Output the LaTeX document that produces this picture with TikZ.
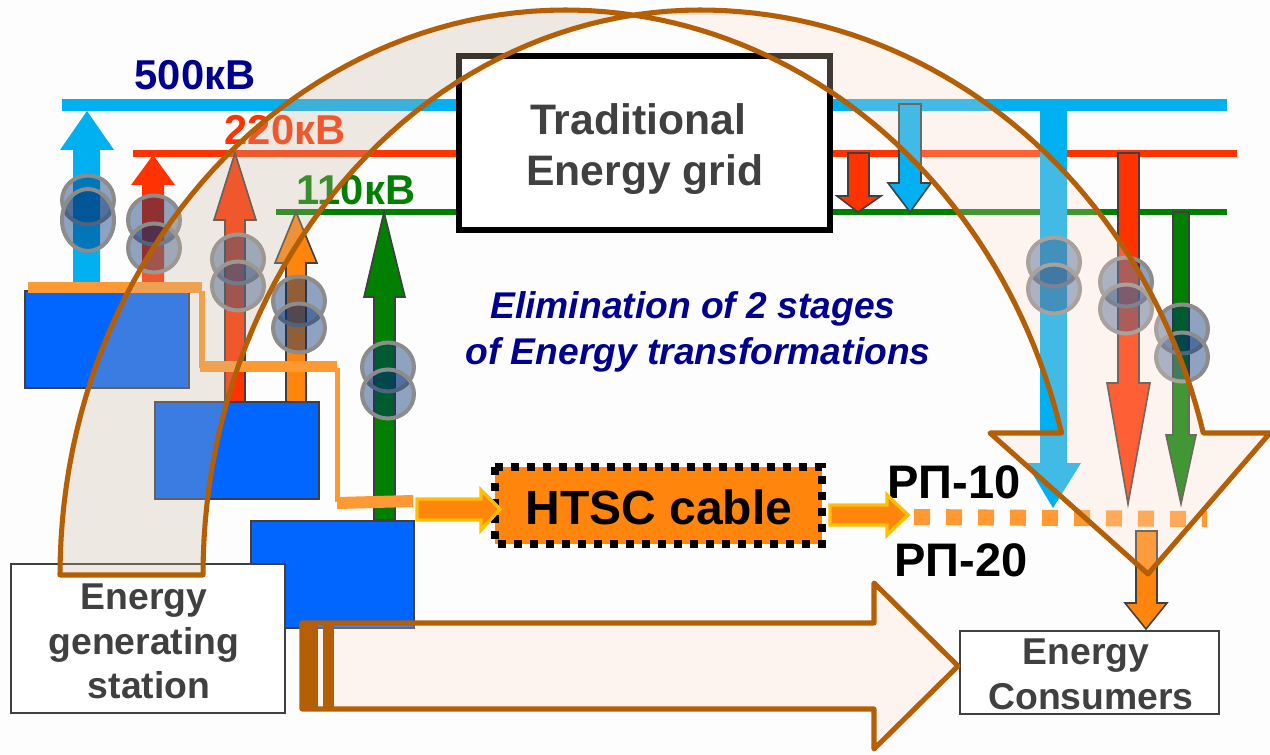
\documentclass[tikz,border=0pt]{standalone}
\usepackage{fontspec}
\setmainfont{Liberation Sans}
\definecolor{bg}{HTML}{FDFDFD}
\definecolor{cyanb}{HTML}{00B0F0}
\definecolor{redb}{HTML}{FF3300}
\definecolor{greenb}{HTML}{007F00}
\definecolor{navy}{HTML}{000090}
\definecolor{orangeb}{HTML}{FF850D}
\definecolor{orangel}{HTML}{FF9933}
\definecolor{blueb}{HTML}{0066FF}
\definecolor{brownb}{HTML}{B45F06}
\definecolor{graytxt}{HTML}{404040}
\definecolor{bandL}{HTML}{C8B59E}
\definecolor{bandR}{HTML}{FDDEC9}
\definecolor{xffill}{HTML}{002E70}
\definecolor{xfline}{HTML}{8C8C8C}
\definecolor{yellowb}{HTML}{FFC000}
\newcommand{\vblock}[8]{\path[#1] (#2,#6) -- (#2,#7) -- (#4,#7) -- (#8) -- (#5,#7) -- (#3,#7) -- (#3,#6) -- cycle;}
\newcommand{\xformer}[3]{\draw[xf] (#1,#2) ellipse[x radius=26,y radius=24.5]; \draw[xf] (#1,#3) ellipse[x radius=26,y radius=24.5];}
\tikzset{
  xf/.style={draw=xfline,line width=3pt,fill=xffill,fill opacity=.43},
  lbl/.style={font=\bfseries,anchor=base,inner sep=0pt},
  edged/.style={draw=graytxt,line width=1.2pt,line join=miter},
  blockrect/.style={fill=blueb,draw=graytxt,line width=1.2pt},
  small/.style={draw=yellowb,fill=orangeb,line width=2.6pt,miter limit=4},
  whitebox/.style={fill=white,draw=graytxt,line width=1.2pt},
  bandline/.style={draw=brownb,line width=3.8pt,line join=round}
}
\begin{document}
\begin{tikzpicture}[x=0.75pt,y=-0.75pt]
\useasboundingbox (0,0) rectangle (1270,755);
\fill[bg] (0,0) rectangle (1270,755);
% buses
\fill[cyanb] (62,99) rectangle (1227,111);
\fill[redb] (133,150) rectangle (1237,157);
\fill[greenb] (276,209) rectangle (1227,215);
% bus labels
\node[lbl,text=navy,font=\bfseries\fontsize{31.3}{33}\selectfont] (l500) at (195,90) {500кВ};
\node[lbl,text=redb,font=\bfseries\fontsize{31.3}{33}\selectfont] (l220) at (285,145) {220кВ};
\node[lbl,text=greenb,font=\bfseries\fontsize{31.3}{33}\selectfont] (l110) at (356,205) {110кВ};
% up arrows
\coordinate (t1) at (87,111); \coordinate (t2) at (153,155); \coordinate (t3) at (235,153);
\coordinate (t4) at (296,212); \coordinate (t5) at (384,212);
\vblock{fill=cyanb}{73}{100}{60}{114}{282}{150}{t1}
\vblock{fill=redb}{142}{164}{131}{175}{282}{185}{t2}
\vblock{fill=redb,edged}{225}{245}{214}{256}{402}{220}{t3}
\vblock{fill=orangeb,edged}{286}{306}{275}{317}{402}{263}{t4}
\vblock{fill=greenb,edged}{374}{395}{364}{405}{520}{297}{t5}
% down arrows
\coordinate (d1) at (1053,508); \coordinate (d2) at (1128,504); \coordinate (d3) at (1181,504);
\coordinate (d4) at (858,212); \coordinate (d5) at (910,212); \coordinate (d6) at (1146,629);
\vblock{fill=cyanb}{1040}{1067}{1026}{1081}{111}{463}{d1}
\vblock{fill=redb,edged}{1118}{1139}{1107}{1150}{153}{383}{d2}
\vblock{fill=greenb,edged}{1173}{1189}{1166}{1196}{212}{435}{d3}
\vblock{fill=redb,edged}{848}{869}{837}{881}{153}{196}{d4}
\vblock{fill=cyanb,edged}{899}{921}{888}{931}{104}{183}{d5}
\vblock{fill=orangeb,edged}{1136}{1157}{1125}{1167}{531}{603}{d6}
% transformers
\draw[xf] (88,200) ellipse[x radius=26,y radius=24.5];
\draw[xf] (88,220) ellipse[x radius=26,y radius=31];
\xformer{154}{220}{248}
\xformer{238}{259}{286}
\xformer{299}{301}{328}
\xformer{388}{367}{394}
\xformer{1054}{262}{289}
\xformer{1126}{282}{309}
\xformer{1182}{329}{357}
% generators
\draw[blockrect] (251,521) rectangle (414,628);
\draw[blockrect] (155,402) rectangle (319,499);
\draw[blockrect] (25,291) rectangle (189,388);
% cable feed
\fill[orangel] (28,282) rectangle (202,293);
\fill[orangel] (199,291) rectangle (205,368);
\fill[orangel] (200,361) rectangle (337,372);
\fill[orangel] (335,368) rectangle (340,502);
\fill[orangel] (337,497) -- (413,495) -- (413,507) -- (337,509) -- cycle;
% HTSC cable
\fill[orangeb] (495,467) rectangle (822,544);
\draw[line width=6pt,dash pattern=on 6pt off 6pt] (495,467) rectangle (822,544);
\node[lbl,text=black,font=\bfseries\fontsize{36}{38}\selectfont] (htsc) at (659,524) {HTSC cable};
% РП labels
\node[lbl,text=black,font=\bfseries\fontsize{35.3}{37}\selectfont] (rp10) at (954,498) {РП-10};
\node[lbl,text=black,font=\bfseries\fontsize{35.3}{37}\selectfont] (rp20) at (961,576) {РП-20};
% cable arrows
\draw[small] (417,499) -- (481,499) -- (481,490) -- (500,509) -- (481,530) -- (481,520) -- (417,520) -- cycle;
\draw[small] (830,505) -- (887,505) -- (887,495) -- (908,515) -- (887,535) -- (887,525) -- (830,525) -- cycle;
% dashed bus
\draw[orangel,line width=12pt,dash pattern=on 12pt off 12pt] (914,517) -- (1207,519);
% station box
\draw[whitebox] (11,564) rectangle (285,713);
% consumers box
\draw[whitebox] (960,631) rectangle (1219,714);
% traditional frame
\draw[black,line width=4.5pt] (459,56) rectangle (830,230);
% curved arrow fills
\fill[bandL,fill opacity=.29] plot[domain=180:90,samples=50] ({565+505*cos(\x)},{575-565*sin(\x)})
  -- plot[domain=90:82.3,samples=4] ({565+513*cos(\x)},{575-565*sin(\x)})
  -- plot[domain=82.3:180,samples=50] ({700-497*cos(180-\x)},{575-565*sin(\x)}) -- cycle;
\fill[bandR,fill opacity=.26] plot[domain=82.3:90,samples=4] ({700+497*cos(180-\x)},{575-565*sin(\x)})
  -- plot[domain=90:14.56,samples=50] ({700+520*cos(\x)},{575-565*sin(\x)})
  -- (1270,433) -- (1148,574) -- (990,433)
  -- plot[domain=14.56:82.3,samples=50] ({565+513*cos(\x)},{575-565*sin(\x)}) -- cycle;
% straight arrow
\draw[bandline,fill=bandR,fill opacity=.26,draw opacity=1] (302,623) -- (874,623) -- (874,583) -- (958,666) -- (874,749) -- (874,709) -- (302,709) -- cycle;
\fill[brownb] (302,621) rectangle (318,711);
\fill[brownb] (323,621) rectangle (334,711);
% traditional box interior and text
\fill[white] (462,59) rectangle (827,227);
\node[lbl,text=graytxt,font=\bfseries\fontsize{32}{34}\selectfont] (trad1) at (638,135) {Traditional};
\node[lbl,text=graytxt,font=\bfseries\fontsize{32}{34}\selectfont] (trad2) at (645,186) {Energy grid};
% curved arrow outline
\draw[bandline] plot[domain=180:90,samples=50] ({565+505*cos(\x)},{575-565*sin(\x)})
  -- plot[domain=90:14.56,samples=50] ({565+513*cos(\x)},{575-565*sin(\x)})
  -- (990,433) -- (1148,574) -- (1270,433)
  -- plot[domain=14.56:90,samples=50] ({700+520*cos(\x)},{575-565*sin(\x)})
  -- plot[domain=90:180,samples=50] ({700+497*cos(\x)},{575-565*sin(\x)}) -- cycle;
% texts
\node[lbl,text=graytxt,font=\bfseries\fontsize{28}{30}\selectfont] (st1) at (144,609) {Energy};
\node[lbl,text=graytxt,font=\bfseries\fontsize{28}{30}\selectfont] (st2) at (144,654) {generating};
\node[lbl,text=graytxt,font=\bfseries\fontsize{28}{30}\selectfont] (st3) at (149,698) {station};
\node[lbl,text=graytxt,font=\bfseries\fontsize{28}{30}\selectfont] (co1) at (1086,664) {Energy};
\node[lbl,text=graytxt,font=\bfseries\fontsize{28}{30}\selectfont] (co2) at (1091,709) {Consumers};
\node[lbl,text=navy,font=\bfseries\itshape\fontsize{27.9}{30}\selectfont] (el1) at (693,319) {Elimination of 2 stages};
\node[lbl,text=navy,font=\bfseries\itshape\fontsize{27.9}{30}\selectfont] (el2) at (698,364) {of Energy transformations};
\end{tikzpicture}
\end{document}
